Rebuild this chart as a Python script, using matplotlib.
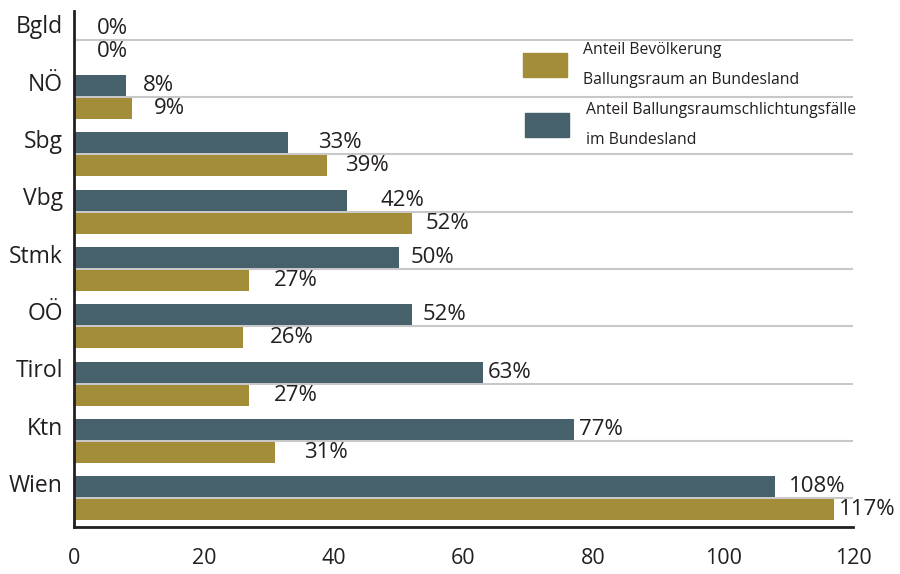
import matplotlib
matplotlib.use("Agg")
import matplotlib.pyplot as plt
from matplotlib.patches import Rectangle

categories = ["Bgld", "NÖ", "Sbg", "Vbg", "Stmk", "OÖ", "Tirol", "Ktn", "Wien"]
faelle = [0, 8, 33, 42, 50, 52, 63, 77, 108]        # Anteil Ballungsraumschlichtungsfälle
bevoelkerung = [0, 9, 39, 52, 27, 26, 27, 31, 117]  # Anteil Bevölkerung Ballungsraum
xticks = [0, 20, 40, 60, 80, 100, 120]

# label nudges (pixels) - layout only
off_dark = [23, 17, 30, 34, 12, 11, 5, 5, 14]
off_gold = [23, 21, 18, 14, 25, 27, 25, 29, 5]

GOLD = "#A38D38"
DARK = "#46606C"
TXT = "#231F20"

plt.rcParams['font.family'] = ['Open Sans', 'DejaVu Sans']

fig = plt.figure(figsize=(9, 5.74), dpi=100)
W, H = 900, 574
ax = fig.add_axes([74 / W, 1 - 527 / H, (853 - 74) / W, (527 - 11) / H])

pos = list(range(len(categories)))
bh = 0.37
ax.barh([p - 0.2 for p in pos], faelle, height=bh, color=DARK, zorder=3)
ax.barh([p + 0.2 for p in pos], bevoelkerung, height=bh, color=GOLD, zorder=3)
for p in pos:
    ax.plot([0, 120], [p, p], color="#C8C8C8", lw=1.5, zorder=2, solid_capstyle='butt')

for p, v, o in zip(pos, faelle, off_dark):
    ax.annotate(f"{v}%", (v, p - 0.2), xytext=(o, 0), textcoords='offset pixels',
                ha='left', va='center', fontsize=16, color=TXT, zorder=5)
for p, v, o in zip(pos, bevoelkerung, off_gold):
    ax.annotate(f"{v}%", (v, p + 0.2), xytext=(o, 0), textcoords='offset pixels',
                ha='left', va='center', fontsize=16, color=TXT, zorder=5)

ax.set_xlim(0, 120)
ax.set_ylim(8.5, -0.5)
ax.set_xticks(xticks)
ax.set_xticklabels([str(t) for t in xticks], fontsize=15.5, color=TXT)
ax.set_yticks([p - 0.27 for p in pos])
ax.set_yticklabels(categories, fontsize=16.5, color=TXT)
ax.tick_params(axis='both', length=0)
ax.tick_params(axis='x', pad=15)
ax.tick_params(axis='y', pad=8)
for s in ['top', 'right']:
    ax.spines[s].set_visible(False)
for s in ['left', 'bottom']:
    ax.spines[s].set_color(TXT)
    ax.spines[s].set_linewidth(2)
ax.spines['left'].set_zorder(6)

# legend (manual)
leg_font = ['Open Sans', 'DejaVu Sans']
fig.patches.append(Rectangle((523 / W, 1 - 77 / H), 44 / W, 24 / H, transform=fig.transFigure,
                             color=GOLD, zorder=10))
fig.patches.append(Rectangle((525 / W, 1 - 137 / H), 44 / W, 24 / H, transform=fig.transFigure,
                             color=DARK, zorder=10))
for txt, y in [("Anteil Bevölkerung", 50), ("Ballungsraum an Bundesland", 80),
               ("Anteil Ballungsraumschlichtungsfälle", 110), ("im Bundesland", 140)]:
    x = 583 if y < 100 else 586
    fig.text(x / W, 1 - y / H, txt, ha='left', va='center', fontsize=11.3,
             family=leg_font, color=TXT)

fig.savefig("out.png", dpi=100)
